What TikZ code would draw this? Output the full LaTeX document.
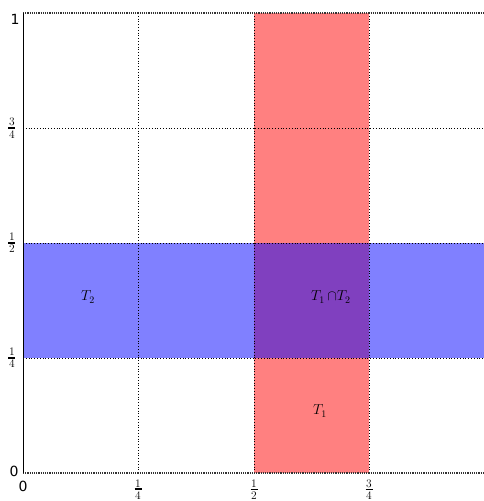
\documentclass[tikz,border=0pt]{standalone}
\usepackage{fontspec}
\newfontfamily\axfont{DejaVu Sans}
\definecolor{redfill}{RGB}{255,128,128}
\definecolor{bluefill}{RGB}{128,128,255}
\definecolor{purplefill}{RGB}{128,64,191}
\newcommand{\myfrac}[2]{\vbox{\hbox to 7pt{\hss#1\hss}\kern1.2pt\hrule height 1.8pt\kern1.4pt\hbox to 7pt{\hss#2\hss}}}
\begin{document}
\begin{tikzpicture}[x=1pt,y=-1pt,
  grid/.style={black, line width=0.8pt, dotted},
  lab/.style={font=\fontsize{14.5}{17}\selectfont, inner sep=0pt},
  tick/.style={font=\fontsize{11.5}{13}\selectfont, inner sep=0pt},
  axl/.style={font=\axfont\fontsize{14}{16}\selectfont, inner sep=0pt}]
\useasboundingbox (0,0) rectangle (484,501);
% fills
\fill[redfill] (254,13) rectangle (369,473);
\fill[bluefill] (23,243) rectangle (484,358);
\fill[purplefill] (254,243) rectangle (369,358);
% grid
\foreach \x in {138,254,369} \draw[grid] (\x,13) -- (\x,473);
\foreach \y in {128,243,358} \draw[grid] (23,\y) -- (484,\y);
% frame
\draw[black!80, line width=1.2pt, densely dotted] (23,13) -- (484,13);
\draw[black!80, line width=1.2pt, densely dotted] (23,473) -- (484,473);
\draw[black!80, line width=1pt, densely dotted] (484,13) -- (484,473);
\draw[black, line width=1pt] (23,13) -- (23,473);
% labels
\node[lab] (t2) at (88,297) {$T_2$};
\node[lab, anchor=west] (t12) at (311,297) {$T_1\,{\cap} T_2$};
\node[lab] (t1) at (320,411) {$T_1$};
% axis ticks
\node[axl] (y1) at (15,19) {1};
\node[axl] (y0) at (14,471) {0};
\node[axl] (x0) at (23,486) {0};
\node[axl] (x1) at (487,486) {1};
\node[tick] (xq1) at (138,489.5) {\myfrac14};
\node[tick] (xq2) at (254,489.5) {\myfrac12};
\node[tick] (xq3) at (369,489.5) {\myfrac34};
\node[tick] (yq3) at (12,128) {\myfrac34};
\node[tick] (yq2) at (12,243) {\myfrac12};
\node[tick] (yq1) at (12,358) {\myfrac14};
\end{tikzpicture}
\end{document}
